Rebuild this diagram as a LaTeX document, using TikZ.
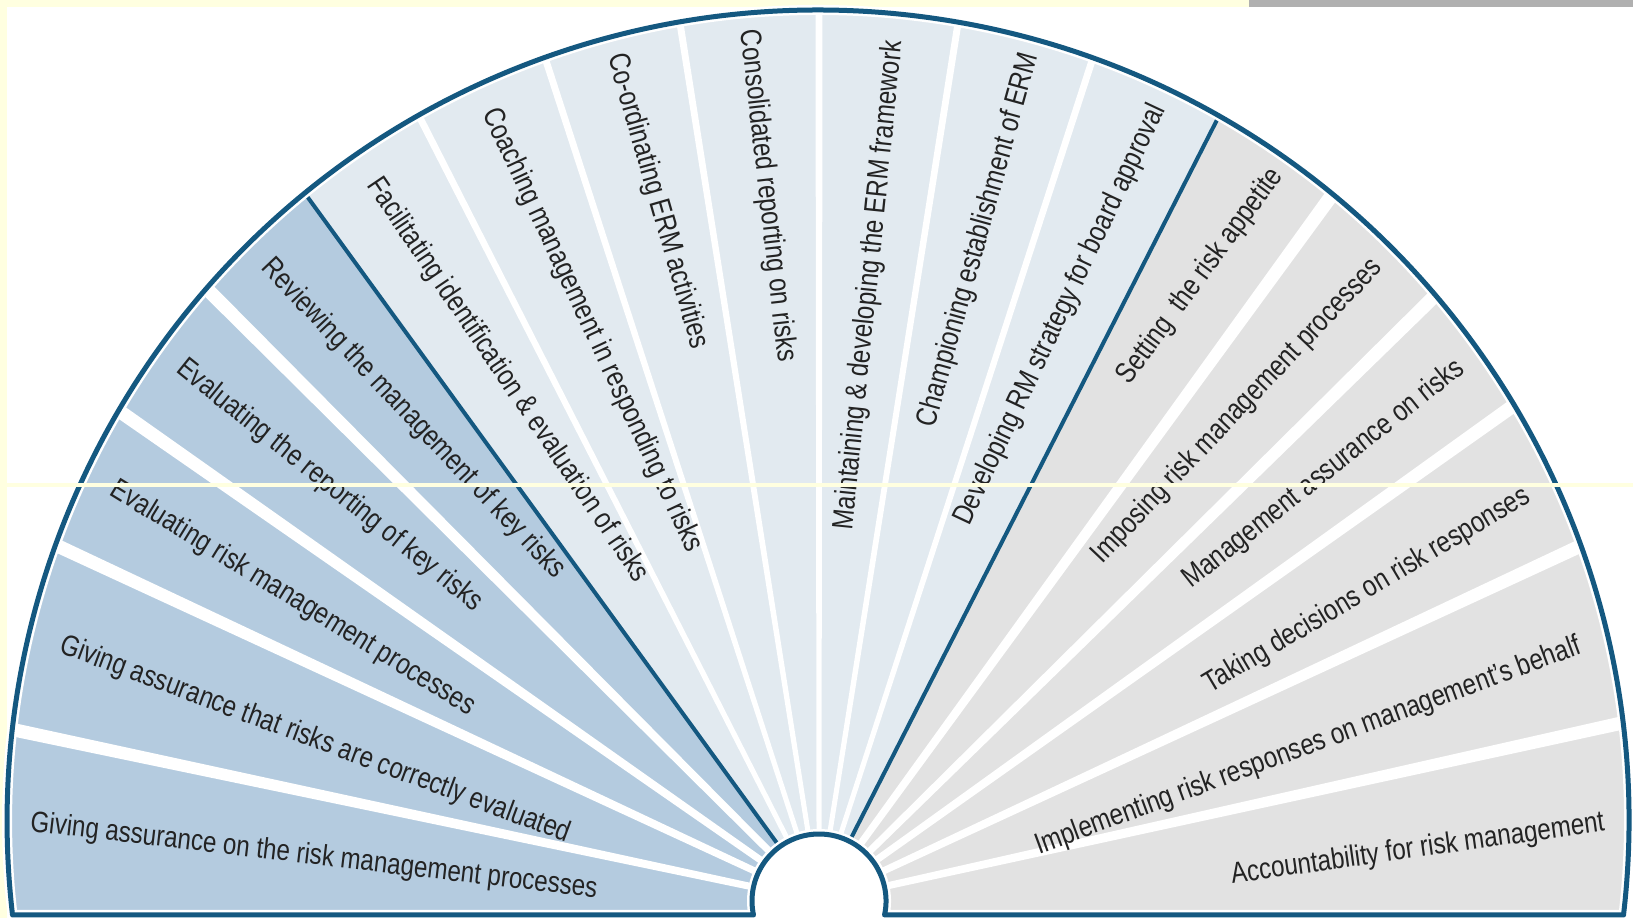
\documentclass[tikz,border=0pt]{standalone}
\usepackage{fontspec}
\setmainfont{Liberation Sans}[FakeStretch=0.82]
\usepackage{tikz}
\usetikzlibrary{positioning}
\definecolor{cream}{RGB}{255,255,224}
\definecolor{topgray}{RGB}{176,176,176}
\definecolor{rimblue}{RGB}{20,88,128}
\definecolor{auditblue}{RGB}{180,203,223}
\definecolor{ermblue}{RGB}{226,234,240}
\definecolor{mgmtgray}{RGB}{226,226,226}
\definecolor{labelgray}{RGB}{35,35,35}
\tikzstyle{role} = [text=labelgray, font=\fontsize{8.4}{10}\selectfont, inner sep=0pt]
\tikzstyle{rim} = [draw=rimblue, line width=0.5mm, line join=round]
\tikzstyle{halo} = [draw=white, line width=1.0mm]
\tikzstyle{divider} = [draw=rimblue, line width=0.4mm]
\tikzstyle{gap} = [fill=white, draw=none]
\newcommand{\fanoutline}{(1623.5,3) arc[start angle=-6.66, end angle=186.66, radius=811]
  -- (753.5,3) arc[start angle=192.06, end angle=-12.06, radius=67] -- cycle}

\begin{document}
\begin{tikzpicture}[x=0.1mm, y=0.1mm]
	\useasboundingbox (0,0) rectangle (1633,918);
	% page background
	\fill[cream] (0,0) rectangle (1633,918);
	\fill[white] (7,0) rectangle (1633,911);
	\fill[topgray] (1249,911) rectangle (1633,918);

	\coordinate (H) at (819,17);

	% sectors
	\begin{scope}
		\clip \fanoutline;
		\fill[auditblue] (H) -- +(126:1000) -- +(160:1000) -- +(200:1000) -- cycle;
		\fill[ermblue] (H) -- +(63:1000) -- +(95:1000) -- +(126:1000) -- cycle;
		\fill[mgmtgray] (H) -- +(-20:1000) -- +(20:1000) -- +(63:1000) -- cycle;
		\foreach \a in {135,145,155,168,54,44.5,35.5,25,12.5}
			\fill[gap, shift={(H)}, rotate=\a] (67,-3.5) -- (900,-7) -- (900,7) -- (67,3.5) -- cycle;
		\foreach \a in {72,81,90,99,108,117}
			\fill[gap, shift={(H)}, rotate=\a] (67,-2.5) -- (900,-3.5) -- (900,3.5) -- (67,2.5) -- cycle;
		\draw[divider] (H) -- +(126:950);
		\draw[divider] (H) -- +(63:950);
	\end{scope}
	\path[halo] \fanoutline;
	\path[rim] \fanoutline;

	% audit roles
	\node[role, rotate=-46.6] (review) at ([shift={(130.1:630)}]H) {Reviewing the management of key risks};
	\node[role, rotate=-38.8] (evalrep) at ([shift={(139.7:642)}]H) {Evaluating the reporting of key risks};
	\node[role, rotate=-31.6] (evalproc) at ([shift={(150.1:607)}]H) {Evaluating risk management processes};
	\node[role, rotate=-20.5] (assureeval) at ([shift={(162.3:529)}]H) {Giving assurance that risks are correctly evaluated};
	\node[role, rotate=-6.7] (assureproc) at ([shift={(175.0:507)}]H) {Giving assurance on the risk management processes};
	% ERM roles
	\node[role, rotate=-55.9] (facilitate) at ([shift={(120.9:607)}]H) {Facilitating identification \& evaluation of risks};
	\node[role, rotate=-65] (coach) at ([shift={(111.7:614)}]H) {Coaching management in responding to risks};
	\node[role, rotate=-74] (coord) at ([shift={(103.0:718)}]H) {Co-ordinating ERM activities};
	\node[role, rotate=-83.5] (consol) at ([shift={(94.2:707)}]H) {Consolidated reporting on risks};
	\node[role, rotate=84.2] (maintain) at ([shift={(85.3:618)}]H) {Maintaining \& developing the ERM framework};
	\node[role, rotate=74.5] (champion) at ([shift={(76.4:680)}]H) {Championing establishment of ERM};
	\node[role, rotate=64.8] (strategy) at ([shift={(67.6:634)}]H) {Developing RM strategy for board approval};
	% management roles
	\node[role, rotate=53.6] (appetite) at ([shift={(58.6:732)}]H) {Setting\ \ the risk appetite};
	\node[role, rotate=46.5] (impose) at ([shift={(49.5:644)}]H) {Imposing risk management processes};
	\node[role, rotate=38.4] (mgmtassure) at ([shift={(40.2:661)}]H) {Management assurance on risks};
	\node[role, rotate=30.8] (decide) at ([shift={(29.5:630)}]H) {Taking decisions on risk responses};
	\node[role, rotate=20.3] (implement) at ([shift={(17.5:513)}]H) {Implementing risk responses on management's behalf};
	\node[role, rotate=8.0] (account) at ([shift={(4.9:601)}]H) {Accountability for risk management};

	% scan line
	\draw[cream, line width=0.35mm] (0,433) -- (1633,433);
\end{tikzpicture}
\end{document}
